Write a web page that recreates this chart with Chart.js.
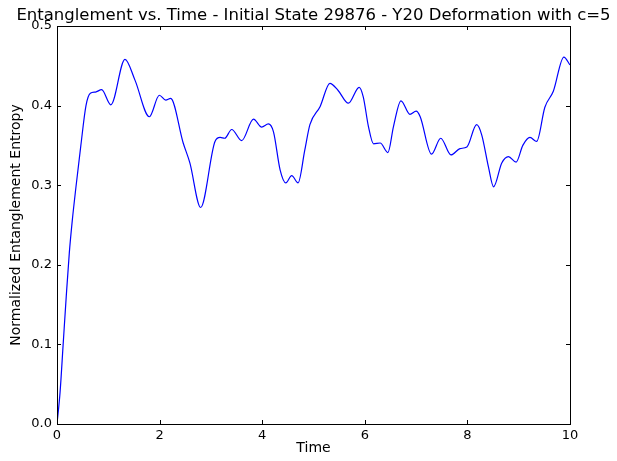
<!DOCTYPE html>
<html>
<head>
<meta charset="utf-8">
<script src="https://cdn.jsdelivr.net/npm/chart.js@4.4.1/dist/chart.umd.min.js"></script>
<style>
  body { margin: 0; background: #fff; }
  canvas { display: block; }
</style>
</head>
<body>
<canvas id="entropyChart" width="617" height="461"></canvas>
<script>
// values
const times = [0.0, 0.06, 0.12, 0.18, 0.24, 0.30, 0.37, 0.465, 0.565, 0.65, 0.75, 0.87, 1.05,
  1.325, 1.52, 1.80, 1.995, 2.12, 2.215, 2.46, 2.59, 2.80, 3.08, 3.18, 3.27, 3.405, 3.60, 3.83, 3.99,
  4.12, 4.22, 4.35, 4.46, 4.575, 4.70, 4.83, 4.93, 5.13, 5.32, 5.48, 5.68, 5.89, 5.97, 6.07, 6.17,
  6.30, 6.45, 6.56, 6.705, 6.88, 7.0, 7.08, 7.30, 7.48, 7.68, 7.855, 7.99, 8.18, 8.28, 8.41, 8.51,
  8.67, 8.80, 8.95, 9.08, 9.22, 9.35, 9.51, 9.675, 9.88, 10.0];
const entropy = [0.0, 0.040, 0.100, 0.160, 0.215, 0.257, 0.298, 0.350, 0.400, 0.4155, 0.417, 0.420, 0.401,
  0.458, 0.432, 0.386, 0.413, 0.407, 0.409, 0.353, 0.328, 0.272, 0.355, 0.360, 0.359, 0.370, 0.356, 0.383, 0.373,
  0.377, 0.367, 0.319, 0.303, 0.312, 0.303, 0.344, 0.376, 0.399, 0.428, 0.419, 0.403, 0.423, 0.411, 0.374, 0.352,
  0.353, 0.341, 0.374, 0.406, 0.389, 0.393, 0.386, 0.339, 0.359, 0.338, 0.346, 0.348, 0.376, 0.363, 0.323, 0.298,
  0.328, 0.336, 0.329, 0.350, 0.360, 0.355, 0.398, 0.418, 0.461, 0.451];
const xTickStep = 2;
const yTickStep = 0.1;
const chartTitle = "Entanglement vs. Time - Initial State 29876 - Y20 Deformation with c=5";

const FONT = "DejaVu Sans";

// matplotlib style frame: box on all sides, ticks pointing inward
const frameTicks = {
  id: "frameTicks",
  afterDatasetsDraw(chart) {
    const { ctx, chartArea: a, scales } = chart;
    const len = 4;
    ctx.save();
    ctx.strokeStyle = "#000";
    ctx.lineWidth = 1;
    ctx.beginPath();
    scales.x.ticks.forEach((t) => {
      const px = Math.round(scales.x.getPixelForValue(t.value)) + 0.5;
      ctx.moveTo(px, a.bottom); ctx.lineTo(px, a.bottom - len);
      ctx.moveTo(px, a.top); ctx.lineTo(px, a.top + len);
    });
    scales.y.ticks.forEach((t) => {
      const py = Math.round(scales.y.getPixelForValue(t.value)) + 0.5;
      ctx.moveTo(a.left, py); ctx.lineTo(a.left + len, py);
      ctx.moveTo(a.right, py); ctx.lineTo(a.right - len, py);
    });
    ctx.stroke();
    ctx.strokeRect(a.left + 0.5, a.top + 0.5, a.right - a.left, a.bottom - a.top);
    ctx.restore();
  },
  afterDraw(chart) {
    const { ctx, chartArea: a } = chart;
    ctx.save();
    ctx.fillStyle = "#000";
    ctx.font = "16.5px " + FONT;
    ctx.textAlign = "center";
    ctx.textBaseline = "alphabetic";
    ctx.fillText(chartTitle, (a.left + a.right) / 2, 20);
    ctx.restore();
  },
};

const ctx = document.getElementById("entropyChart").getContext("2d");
const entropyChart = new Chart(ctx, {
  type: "line",
  data: {
    datasets: [
      {
        data: times.map((t, i) => ({ x: t, y: entropy[i] })),
        borderColor: "#0000ff",
        borderWidth: 1.2,
        pointRadius: 0,
        fill: false,
        cubicInterpolationMode: "monotone",
      },
    ],
  },
  options: {
    responsive: false,
    animation: false,
    layout: { padding: { top: 26, right: 47, left: 0, bottom: 0 } },
    plugins: { legend: { display: false }, tooltip: { enabled: false } },
    scales: {
      x: {
        type: "linear",
        min: 0,
        max: 10,
        grid: { display: false, drawTicks: false },
        border: { display: false },
        ticks: { stepSize: xTickStep, color: "#000", padding: 4, maxRotation: 0, font: { family: FONT, size: 13 } },
        title: { display: true, text: "Time", color: "#000", padding: { top: 4, bottom: 4 }, font: { family: FONT, size: 14 } },
        afterFit(scale) { scale.height = 37; },
      },
      y: {
        min: 0,
        max: 0.5,
        grid: { display: false, drawTicks: false },
        border: { display: false },
        ticks: {
          stepSize: yTickStep,
          color: "#000",
          padding: 5,
          font: { family: FONT, size: 13 },
          callback: (v) => v.toFixed(1),
        },
        title: {
          display: true,
          text: "Normalized Entanglement Entropy",
          color: "#000",
          padding: { top: 8, bottom: 8 },
          font: { family: FONT, size: 14 },
        },
        afterFit(scale) { scale.width = 57; },
      },
    },
  },
  plugins: [frameTicks],
});
</script>
</body>
</html>
